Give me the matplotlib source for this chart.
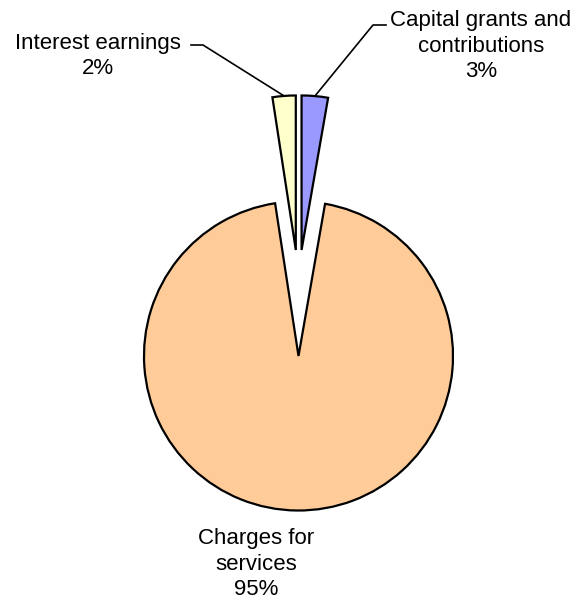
import matplotlib
matplotlib.use("Agg")
import matplotlib.pyplot as plt
import numpy as np

# ---- data ----
categories = ["Capital grants and\ncontributions", "Charges for\nservices", "Interest earnings"]
shares = [2.75, 94.83, 2.42]
pct_labels = ["3%", "95%", "2%"]
colors = ["#9999FF", "#FFCC99", "#FFFFCC"]
lifted = [True, False, True]

# ---- layout (pixels) ----
W, H = 582, 600
R_PX = 154.5
CX, CY = 298.5, 356.0
LIFT = 106 / R_PX
HSHIFT = 0.23


def P(px, py):
    return ((px - CX) / R_PX, (CY - py) / R_PX)


plt.rcParams["font.family"] = ["Liberation Sans", "DejaVu Sans"]
fig = plt.figure(figsize=(W / 100, H / 100), dpi=100)
ax = fig.add_axes([0, 0, 1, 1])

wedges, _ = ax.pie(shares, colors=colors, startangle=90, counterclock=False,
                   radius=1.0,
                   wedgeprops=dict(edgecolor="black", linewidth=1.6, joinstyle="miter"))
for w, lf in zip(wedges, lifted):
    if lf:
        mid = np.deg2rad((w.theta1 + w.theta2) / 2)
        w.set_center((HSHIFT * np.cos(mid), LIFT))

ax.set_xlim(-CX / R_PX, (W - CX) / R_PX)
ax.set_ylim(-(H - CY) / R_PX, CY / R_PX)
ax.set_aspect("equal")
ax.axis("off")


def top_point(w):
    a = np.deg2rad((w.theta1 + w.theta2) / 2)
    cx, cy = w.center
    return (cx + w.r * np.cos(a), cy + w.r * np.sin(a))


fs = 16
ls = 1.28

# Capital grants label
t0 = f"{categories[0]}\n{pct_labels[0]}"
ax.text(*P(481, 46), t0, ha="center", va="center", fontsize=fs, linespacing=ls,
        multialignment="center")
tp = top_point(wedges[0])
pts = [P(386, 25), P(373, 25), tp]
ax.plot([p[0] for p in pts], [p[1] for p in pts], color="black", lw=1.2)

# Interest earnings label
t2 = f"{categories[2]}\n{pct_labels[2]}"
ax.text(*P(98, 56), t2, ha="center", va="center", fontsize=fs, linespacing=ls,
        multialignment="center")
tp = top_point(wedges[2])
pts = [P(191, 45), P(203, 45), tp]
ax.plot([p[0] for p in pts], [p[1] for p in pts], color="black", lw=1.2)

# Charges for services label
t1 = f"{categories[1]}\n{pct_labels[1]}"
ax.text(*P(256, 564), t1, ha="center", va="center", fontsize=fs, linespacing=ls,
        multialignment="center")

fig.savefig("out.png", dpi=100)
